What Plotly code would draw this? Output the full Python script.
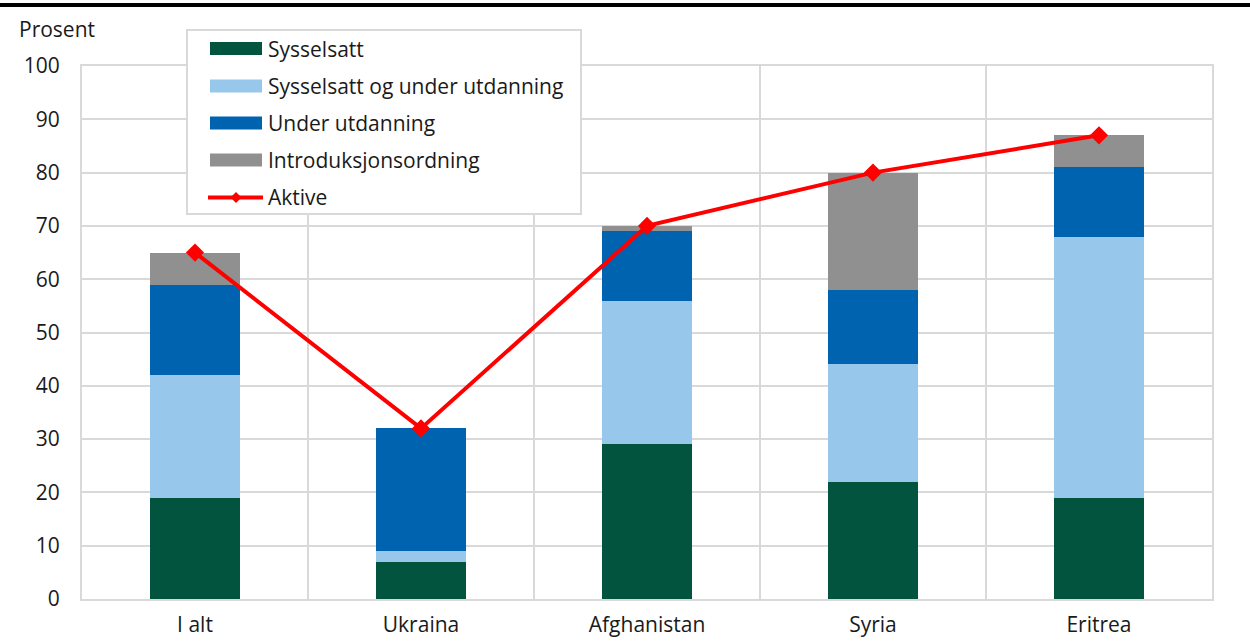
import plotly.graph_objects as go

categories = ["I alt", "Ukraina", "Afghanistan", "Syria", "Eritrea"]
sysselsatt = [19, 7, 29, 22, 19]
syss_utd = [23, 2, 27, 22, 49]
under_utd = [17, 23, 13, 14, 13]
intro = [6, 0, 1, 22, 6]
aktive = [65, 32, 70, 80, 87]
yticks = list(range(0, 101, 10))

series_names = ["Sysselsatt", "Sysselsatt og under utdanning", "Under utdanning", "Introduksjonsordning"]
series_vals = [sysselsatt, syss_utd, under_utd, intro]
series_colors = ["#03543F", "#97C8EB", "#0063AF", "#909090"]
line_name = "Aktive"
line_color = "#FF0000"

W, H = 1250, 644
L, R, T, B = 82, 38, 66, 45
PW, PH = W - L - R, H - T - B
FONT = "Open Sans"
FS = 21
TXT = "#1a1a1a"
GRID = "#D9D9D9"


def px(X):
    return (X - L) / PW


def py(Y):
    return (H - B - Y) / PH


xpos = list(range(len(categories)))

fig = go.Figure()
for name, vals, col in zip(series_names, series_vals, series_colors):
    fig.add_trace(go.Bar(x=xpos, y=vals, name=name, marker=dict(color=col, line=dict(width=0)),
                         width=0.4))
fig.add_trace(go.Scatter(x=xpos, y=aktive, name=line_name, mode="lines+markers",
                         line=dict(color=line_color, width=4),
                         marker=dict(symbol="diamond", size=14, color=line_color)))

shapes = [dict(type="line", xref="paper", yref="paper", x0=px(0), x1=px(W),
               y0=py(5), y1=py(5), line=dict(color="black", width=4))]
annotations = [dict(text="Prosent", xref="paper", yref="paper", x=px(17), y=py(29),
                    xanchor="left", yanchor="middle", showarrow=False,
                    font=dict(size=FS, family=FONT, color=TXT))]

# legend drawn manually
shapes.append(dict(type="rect", xref="paper", yref="paper", x0=px(187), x1=px(581),
                   y0=py(214), y1=py(30), line=dict(color=GRID, width=2),
                   fillcolor="white", layer="above"))
centers = [48.5, 86, 123, 160, 197.5]
labels = series_names + [line_name]
for i, (lab, cy) in enumerate(zip(labels, centers)):
    if i < len(series_colors):
        shapes.append(dict(type="rect", xref="paper", yref="paper", x0=px(210), x1=px(262),
                           y0=py(cy + 6.5), y1=py(cy - 6.5), line=dict(width=0),
                           fillcolor=series_colors[i], layer="above"))
    else:
        shapes.append(dict(type="line", xref="paper", yref="paper", x0=px(208), x1=px(263),
                           y0=py(cy), y1=py(cy), line=dict(color=line_color, width=4),
                           layer="above"))
        d = 5.5
        cx = 236
        path = (f"M {px(cx - d)},{py(cy)} L {px(cx)},{py(cy - d)} "
                f"L {px(cx + d)},{py(cy)} L {px(cx)},{py(cy + d)} Z")
        shapes.append(dict(type="path", xref="paper", yref="paper", path=path,
                           fillcolor=line_color, line=dict(width=0), layer="above"))
    annotations.append(dict(text=lab, xref="paper", yref="paper", x=px(266), y=py(cy),
                            xanchor="left", yanchor="middle", showarrow=False,
                            font=dict(size=FS, family=FONT, color=TXT)))

fig.update_layout(
    barmode="stack",
    width=W, height=H,
    margin=dict(l=L, r=R, t=T, b=B, autoexpand=False),
    plot_bgcolor="white", paper_bgcolor="white",
    font=dict(family=FONT, size=FS, color=TXT),
    showlegend=False,
    xaxis=dict(range=[-0.5, 4.5], tickmode="array", tickvals=xpos, ticktext=categories,
               showgrid=False, zeroline=False, showline=True, mirror=True,
               linecolor=GRID, linewidth=2, automargin=False,
               ticks="outside", ticklen=6, tickcolor="rgba(0,0,0,0)",
               minor=dict(tickmode="array", tickvals=[0.5, 1.5, 2.5, 3.5],
                          showgrid=True, gridcolor=GRID, gridwidth=2, ticks="")),
    yaxis=dict(range=[0, 100], tickmode="array", tickvals=yticks, showgrid=True,
               gridcolor=GRID, gridwidth=2, zeroline=False, showline=True, mirror=True,
               linecolor=GRID, linewidth=2, automargin=False,
               ticks="outside", ticklen=16, tickcolor="rgba(0,0,0,0)"),
    annotations=annotations,
    shapes=shapes,
)
fig.write_html("out.html", config={"displayModeBar": False},
               post_script="document.body.style.margin='0';document.body.style.overflow='hidden';")
